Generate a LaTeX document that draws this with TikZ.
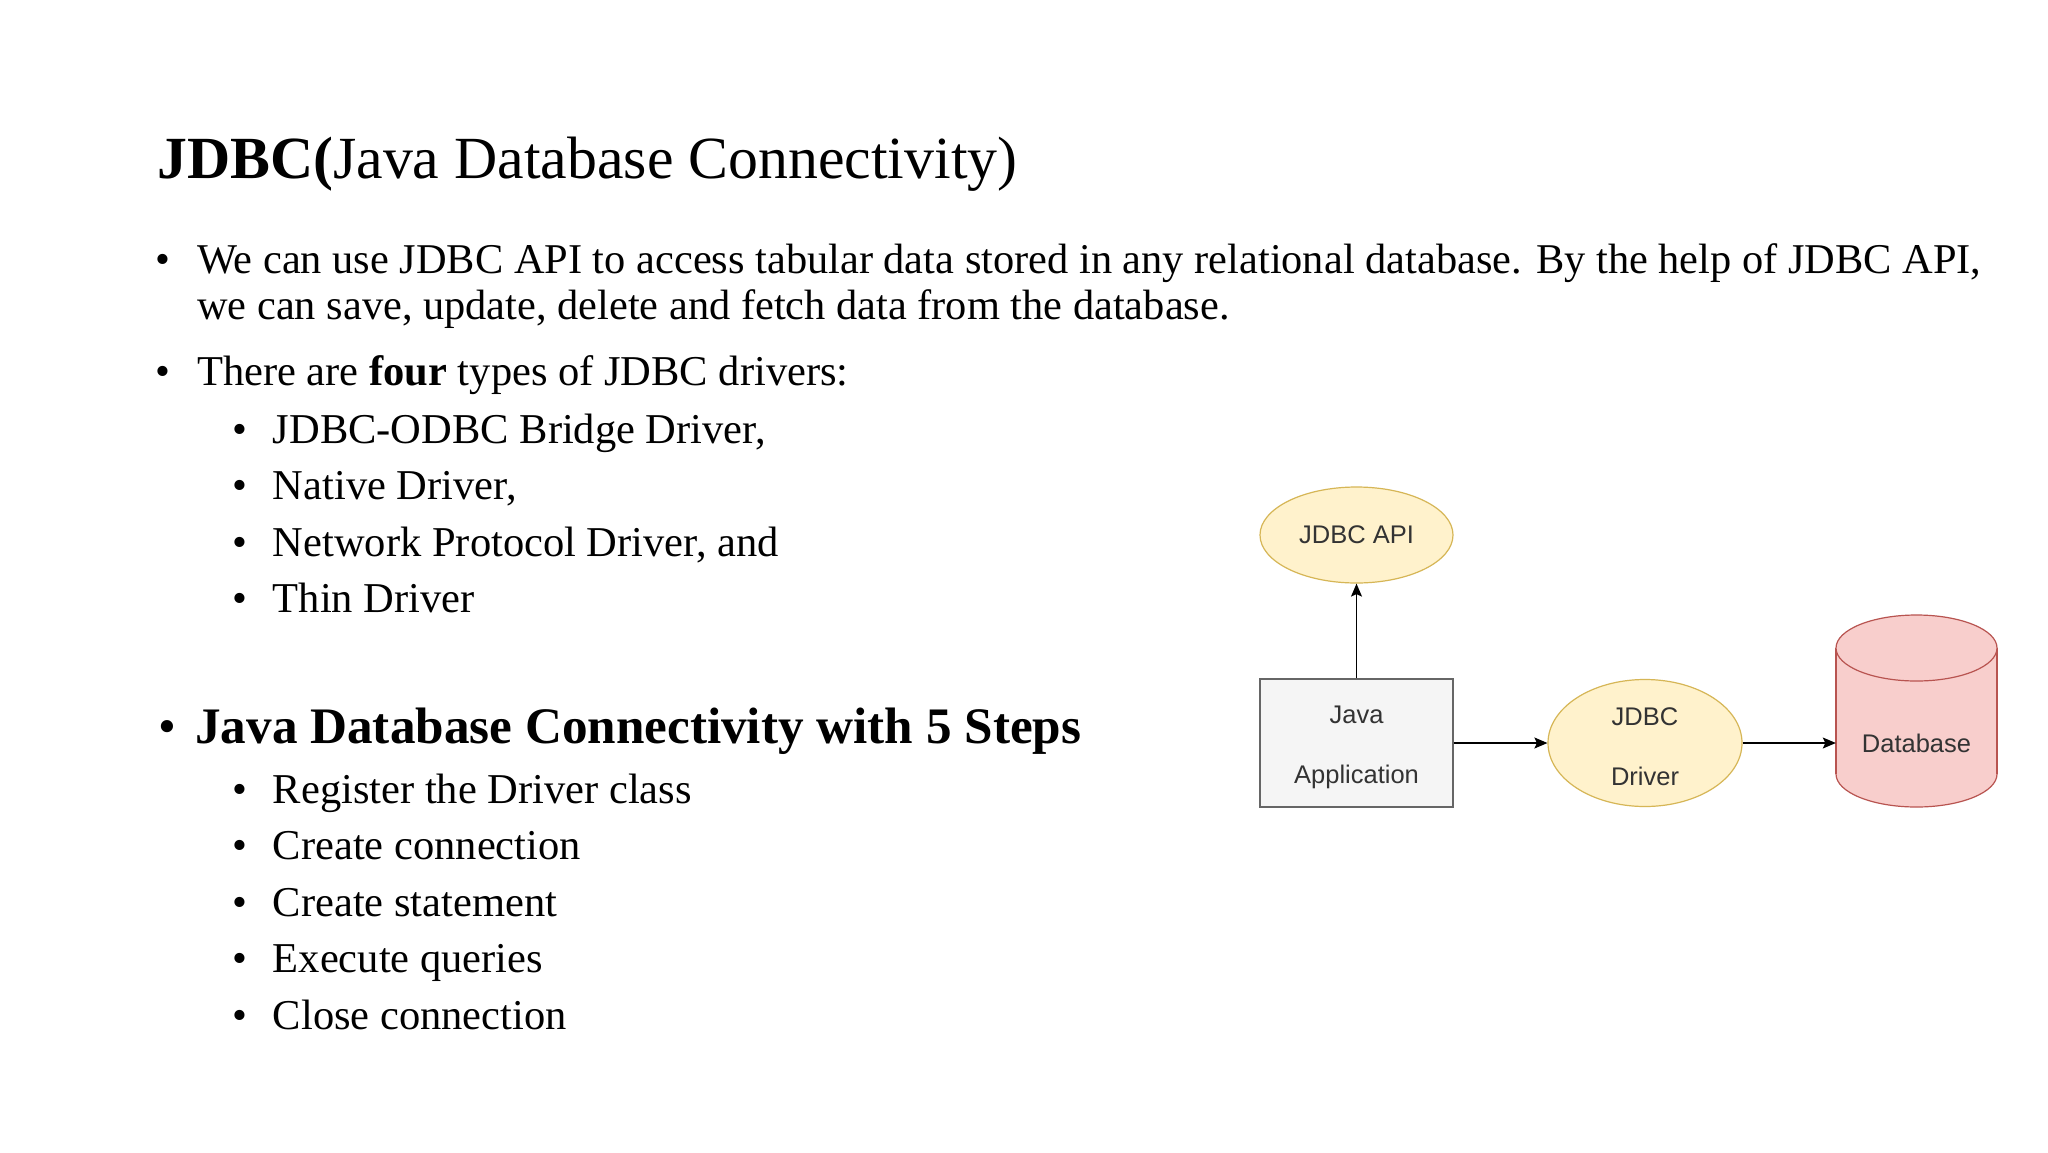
\documentclass[tikz,border=0pt]{standalone}
\usepackage{fontspec}
\setmainfont{Liberation Serif}
\newfontfamily\diagfont{Liberation Sans}
\usetikzlibrary{shapes.geometric, positioning, arrows.meta}
\definecolor{apifill}{HTML}{FFF2CC}
\definecolor{apiline}{HTML}{D6B656}
\definecolor{appfill}{HTML}{F5F5F5}
\definecolor{appline}{HTML}{666666}
\definecolor{dbfill}{HTML}{F8CECC}
\definecolor{dbline}{HTML}{B85450}
\definecolor{labeltext}{HTML}{333333}

\begin{document}
\begin{tikzpicture}[x=1pt, y=-1pt,
        txt/.style={anchor=base west, inner sep=0pt, font=\fontsize{42.5}{50}\selectfont},
        dot/.style={anchor=base, inner sep=0pt, font=\fontsize{42.5}{50}\selectfont},
        oval/.style={ellipse, draw=apiline, fill=apifill, line width=1.2pt, inner sep=0pt},
        lbl/.style={text=labeltext, align=center, font=\diagfont\fontsize{25.5}{60}\selectfont},
        link/.style={-{Stealth[length=13pt, width=11pt, inset=2.5pt]}, line width=1.2pt}]
        \useasboundingbox (0,0) rectangle (2048,1152);
        \fill[white] (0,0) rectangle (2048,1152);

        % slide text
        \node[txt, font=\fontsize{59.8}{70}\selectfont] (title) at (157,178) {\textbf{JDBC(}Java Database Connectivity)};
        \node[dot] (b1) at (163,273) {•};
        \node[txt, font=\fontsize{42.4}{50}\selectfont] (use1) at (197,273) {We can use JDBC API to access tabular data stored in any relational database. By the help of JDBC API,};
        \node[txt, font=\fontsize{42.4}{50}\selectfont] (use2) at (197,319) {we can save, update, delete and fetch data from the database.};
        \node[dot] (b2) at (163,385) {•};
        \node[txt] (types) at (197,385) {There are \textbf{four} types of JDBC drivers:};
        \foreach \t [count=\i] in {{JDBC-ODBC Bridge Driver,}, {Native Driver,}, {Network Protocol Driver, and}, {Thin Driver}} {
            \node[dot] (kdot\i) at (239.5,443.3+56.5*\i-56.5) {•};
            \node[txt] (kind\i) at (272.7,443.3+56.5*\i-56.5) {\t};
        }
        \node[dot, font=\fontsize{51}{60}\selectfont] (b3) at (167,743) {•};
        \node[txt, font=\bfseries\fontsize{51.2}{60}\selectfont] (steps) at (195,743) {Java Database Connectivity with 5 Steps};
        \foreach \t [count=\i] in {Register the Driver class, Create connection, Create statement, Execute queries, Close connection} {
            \node[dot] (sdot\i) at (239.5,803.3+56.5*\i-56.5) {•};
            \node[txt] (step\i) at (272.7,803.3+56.5*\i-56.5) {\t};
        }

        % diagram
        \node[oval, lbl, minimum width=193pt, minimum height=96pt] (api) at (1356.5,535) {JDBC API};
        \node[draw=appline, fill=appfill, line width=1.2pt, inner sep=0pt, minimum width=193pt, minimum height=128pt, lbl] (app) at (1356.5,743) {\rule{0pt}{26pt}Java\\Application};
        \node[oval, lbl, minimum width=194pt, minimum height=127pt] (drv) at (1645,743) {\rule{0pt}{26pt}JDBC\\Driver};
        \filldraw[fill=dbfill, draw=dbline, line width=1.2pt] (1916.5,774) ellipse [x radius=80.5pt, y radius=33pt];
        \fill[dbfill] (1836,648) rectangle (1997,774);
        \draw[dbline, line width=1.2pt] (1836,648) -- (1836,774) (1997,648) -- (1997,774);
        \filldraw[fill=dbfill, draw=dbline, line width=1.2pt] (1916.5,648) ellipse [x radius=80.5pt, y radius=33pt];
        \node[lbl, inner sep=0pt, minimum width=161pt, minimum height=126pt] (db) at (1916.5,743) {Database};

        \draw[link] (app) -- (api);
        \draw[link] (app) -- (drv);
        \draw[link] (drv) -- (db);
\end{tikzpicture}
\end{document}
